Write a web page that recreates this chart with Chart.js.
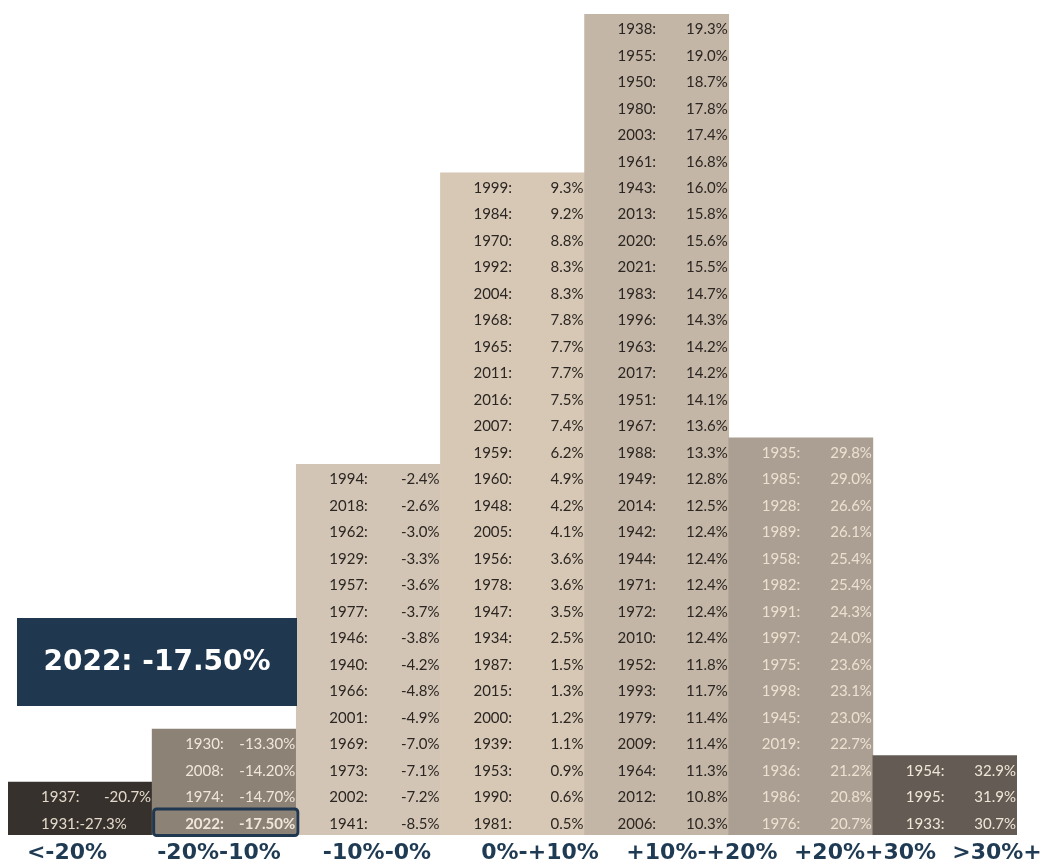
<!DOCTYPE html>
<html>
<head>
<meta charset="utf-8">
<script src="https://cdn.jsdelivr.net/npm/chart.js@4/dist/chart.umd.min.js"></script>
<style>
  html, body { margin: 0; padding: 0; background: #ffffff; }
  #wrap { width: 1044px; height: 865px; position: relative; }
</style>
</head>
<body>
<div id="wrap"><canvas id="c" width="1044" height="865"></canvas></div>
<script>
// ---- Data (cells listed top to bottom, as in the picture) ----
const categories = ['<-20%', '-20%-10%', '-10%-0%', '0%-+10%', '+10%-+20%', '+20%+30%', '>30%+'];

const binLt20 = ['1937: -20.7%', '1931:-27.3%'];
const bin20to10 = ['1930: -13.30%', '2008: -14.20%', '1974: -14.70%', '2022: -17.50%'];
const bin10to0 = ['1994: -2.4%', '2018: -2.6%', '1962: -3.0%', '1929: -3.3%', '1957: -3.6%',
  '1977: -3.7%', '1946: -3.8%', '1940: -4.2%', '1966: -4.8%', '2001: -4.9%', '1969: -7.0%',
  '1973: -7.1%', '2002: -7.2%', '1941: -8.5%'];
const bin0to10 = ['1999: 9.3%', '1984: 9.2%', '1970: 8.8%', '1992: 8.3%', '2004: 8.3%',
  '1968: 7.8%', '1965: 7.7%', '2011: 7.7%', '2016: 7.5%', '2007: 7.4%', '1959: 6.2%',
  '1960: 4.9%', '1948: 4.2%', '2005: 4.1%', '1956: 3.6%', '1978: 3.6%', '1947: 3.5%',
  '1934: 2.5%', '1987: 1.5%', '2015: 1.3%', '2000: 1.2%', '1939: 1.1%', '1953: 0.9%',
  '1990: 0.6%', '1981: 0.5%'];
const bin10to20 = ['1938: 19.3%', '1955: 19.0%', '1950: 18.7%', '1980: 17.8%', '2003: 17.4%',
  '1961: 16.8%', '1943: 16.0%', '2013: 15.8%', '2020: 15.6%', '2021: 15.5%', '1983: 14.7%',
  '1996: 14.3%', '1963: 14.2%', '2017: 14.2%', '1951: 14.1%', '1967: 13.6%', '1988: 13.3%',
  '1949: 12.8%', '2014: 12.5%', '1942: 12.4%', '1944: 12.4%', '1971: 12.4%', '1972: 12.4%',
  '2010: 12.4%', '1952: 11.8%', '1993: 11.7%', '1979: 11.4%', '2009: 11.4%', '1964: 11.3%',
  '2012: 10.8%', '2006: 10.3%'];
const bin20to30 = ['1935: 29.8%', '1985: 29.0%', '1928: 26.6%', '1989: 26.1%', '1958: 25.4%',
  '1982: 25.4%', '1991: 24.3%', '1997: 24.0%', '1975: 23.6%', '1998: 23.1%', '1945: 23.0%',
  '2019: 22.7%', '1936: 21.2%', '1986: 20.8%', '1976: 20.7%'];
const binGt30 = ['1954: 32.9%', '1995: 31.9%', '1933: 30.7%'];

const highlightYear = '2022';

const bins = [binLt20, bin20to10, bin10to0, bin0to10, bin10to20, bin20to30, binGt30];
const counts = bins.map(b => b.length);

// ---- Styles ----
const barColors = ['#36312c', '#8c8276', '#d3c5b5', '#d7c8b6', '#c4b6a7', '#aa9f92', '#645c54'];
const textColors = ['#e3d9cb', '#f1e7d9', '#2b2622', '#2b2622', '#2b2622', '#ece1d1', '#f0e6d7'];
const navy = '#1f3850';
const labelCenters = [67, 219, 377, 540, 702, 865, 997];

const cellText = {
  id: 'cellText',
  afterDatasetsDraw(chart) {
    const ctx = chart.ctx;
    const y = chart.scales.y;
    const meta = chart.getDatasetMeta(0);
    ctx.save();
    meta.data.forEach((bar, i) => {
      const left = bar.x - bar.width / 2;
      const right = bar.x + bar.width / 2;
      const cells = bins[i];
      const n = cells.length;
      cells.forEach((label, k) => {
        const row = n - 1 - k;
        const yc = y.getPixelForValue(row + 0.5) + 2;
        const isHi = label.startsWith(highlightYear + ':');
        ctx.font = (isHi ? 'bold ' : '') + '15px Lato, "Open Sans", sans-serif';
        ctx.fillStyle = textColors[i];
        ctx.textBaseline = 'middle';
        const idx = label.indexOf(': ');
        if (idx >= 0) {
          ctx.textAlign = 'left';
          ctx.fillText(label.slice(0, idx + 1), left + 33, yc);
          ctx.textAlign = 'right';
          ctx.fillText(label.slice(idx + 2), right - 1, yc);
        } else {
          ctx.textAlign = 'left';
          ctx.fillText(label, left + 33, yc);
        }
        if (isHi) {
          const top = y.getPixelForValue(row + 1);
          const bot = y.getPixelForValue(row);
          ctx.strokeStyle = navy;
          ctx.lineWidth = 3;
          ctx.beginPath();
          ctx.roundRect(left + 1.5, top + 0.5, right - left, bot - top, 3);
          ctx.stroke();
        }
      });
    });

    // callout box
    const hiLabel = bins.flat().find(l => l.startsWith(highlightYear + ':'));
    ctx.fillStyle = navy;
    ctx.fillRect(17, 618, 280, 88);
    ctx.fillStyle = '#ffffff';
    ctx.font = 'bold 28px "DejaVu Sans", sans-serif';
    ctx.textAlign = 'center';
    ctx.textBaseline = 'middle';
    ctx.fillText(hiLabel.replace(':-', ': -'), 157, 663);

    // category labels
    ctx.fillStyle = '#1f3a53';
    ctx.font = 'bold 22px "DejaVu Sans", sans-serif';
    ctx.textBaseline = 'middle';
    ctx.textAlign = 'center';
    categories.forEach((c, i) => ctx.fillText(c, labelCenters[i], 853));
    ctx.restore();
  }
};

new Chart(document.getElementById('c'), {
  type: 'bar',
  data: {
    labels: categories,
    datasets: [{
      data: counts,
      backgroundColor: barColors,
      borderWidth: 0,
      barPercentage: 1,
      categoryPercentage: 1
    }]
  },
  options: {
    responsive: false,
    animation: false,
    layout: { padding: { left: 8, right: 27, top: 14, bottom: 30 } },
    plugins: { legend: { display: false }, tooltip: { enabled: false } },
    scales: {
      x: { display: false },
      y: { display: false, min: 0, max: 31 }
    }
  },
  plugins: [cellText]
});
</script>
</body>
</html>
